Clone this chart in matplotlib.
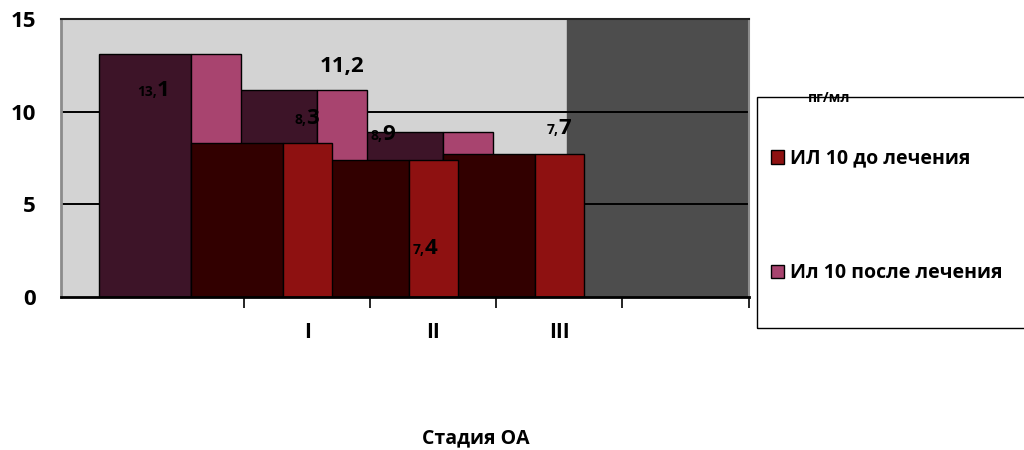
import matplotlib
matplotlib.use("Agg")
import matplotlib.pyplot as plt
from matplotlib.patches import Rectangle

plt.rcParams['font.family'] = ['Open Sans', 'DejaVu Sans']
plt.rcParams['font.weight'] = 'bold'

# ---- data ----
stages = ['I', 'II', 'III']
before = [8.3, 7.4, 7.7]      # ИЛ 10 до лечения
after = [13.1, 11.2, 8.9]     # Ил 10 после лечения
label_before = ['ИЛ 10 до лечения']
label_after = ['Ил 10 после лечения']
y_ticks = [0, 5, 10, 15]
unit_label = 'пг/мл'
x_title = 'Стадия ОА'

# ---- style ----
c_before_front = '#8E1111'
c_before_side = '#320000'
c_after_front = '#A8446F'
c_after_side = '#3D1428'
front_w = 0.393
depth = 0.73
shift_after = -0.725

# label split (small part, big part) and offsets relative to bar center/top
lab_after_parts = [('13,', '1'), ('', '11,2'), ('8,', '9')]
lab_after_off = [(-0.47, -2.24), (0.0, 0.96), (-0.68, -0.41)]
lab_before_parts = [('8,', '3'), ('7,', '4'), ('7,', '7')]
lab_before_off = [(-0.01, 1.05), (-0.07, -5.08), (-0.01, 1.11)]

fig = plt.figure(figsize=(10.24, 4.5), dpi=100)
ax = fig.add_axes([61 / 1024, 1 - 296.7 / 450, 687.5 / 1024, 277.4 / 450])
ax.set_xlim(-0.955, 4.5)
ax.set_ylim(0, 15)
ax.set_facecolor('#D3D3D3')
ax.axvspan(3.06, 4.5, color='#4D4D4D', zorder=0)
for g in y_ticks[1:]:
    ax.axhline(g, color='black', lw=1.4, zorder=0.5)

xs = list(range(1, len(stages) + 1))
xa = [x + shift_after for x in xs]

def draw_series(centers, vals, c_side, c_front, label):
    left_edges = [c - front_w / 2 for c in centers]
    ax.bar([l - depth for l in left_edges], vals, width=depth, align='edge',
           color=c_side, edgecolor='black', linewidth=1.0, zorder=2)
    return ax.bar(centers, vals, width=front_w, color=c_front,
                  edgecolor='black', linewidth=1.0, zorder=2, label=label)

ha = draw_series(xa, after, c_after_side, c_after_front, label_after[0])
hb = draw_series(xs, before, c_before_side, c_before_front, label_before[0])

def put_labels(centers, vals, parts, offs):
    for c, v, (sm, bg), (dx, dy) in zip(centers, vals, parts, offs):
        x, y = c + dx, v + dy
        if sm:
            ax.text(x, y, sm, ha='right', va='baseline', fontsize=10,
                    fontweight='bold', zorder=5)
            ax.text(x, y, bg, ha='left', va='baseline', fontsize=16,
                    fontweight='bold', zorder=5)
        else:
            ax.text(x, y, bg, ha='center', va='baseline', fontsize=16,
                    fontweight='bold', zorder=5)

put_labels(xa, after, lab_after_parts, lab_after_off)
put_labels(xs, before, lab_before_parts, lab_before_off)

# axes styling
ax.set_yticks(y_ticks)
ax.set_yticklabels([str(t) for t in y_ticks], fontsize=16, fontweight='bold')
ax.tick_params(axis='y', length=0, pad=18)
ax.set_xticks([0.5, 1.5, 2.5, 3.5, 4.5])
ax.set_xticklabels([])
ax.set_xticks(xs, minor=True)
ax.set_xticklabels(stages, minor=True, fontsize=15, fontweight='bold')
ax.tick_params(axis='x', which='major', length=8, width=1.2, direction='out')
ax.tick_params(axis='x', which='minor', length=0, pad=18)
ax.spines['left'].set_color('#8C8C8C')
ax.spines['left'].set_linewidth(2)
ax.spines['right'].set_color('#8C8C8C')
ax.spines['right'].set_linewidth(1.5)
ax.spines['top'].set_color('#222222')
ax.spines['top'].set_linewidth(1.5)
ax.spines['bottom'].set_linewidth(2)

fig.text(476 / 1024, 1 - 438 / 450, x_title, ha='center', va='center',
         fontsize=14, fontweight='bold')

# legend box
fig.patches.append(Rectangle((757 / 1024, 1 - 328 / 450), 0.3, 231 / 450,
                             transform=fig.transFigure, fill=False,
                             edgecolor='black', linewidth=1.0))
fig.text(829 / 1024, 1 - 98 / 450, unit_label, ha='center', va='center',
         fontsize=10, fontweight='bold')
fig.legend(handles=[hb, ha], loc='upper left',
           bbox_to_anchor=(761 / 1024, 1 - 139 / 450), frameon=False,
           handlelength=0.7, handleheight=0.7,
           handletextpad=0.3, labelspacing=4.87, borderpad=0,
           prop={'weight': 'bold', 'size': 14})

fig.savefig('out.png', dpi=100)
